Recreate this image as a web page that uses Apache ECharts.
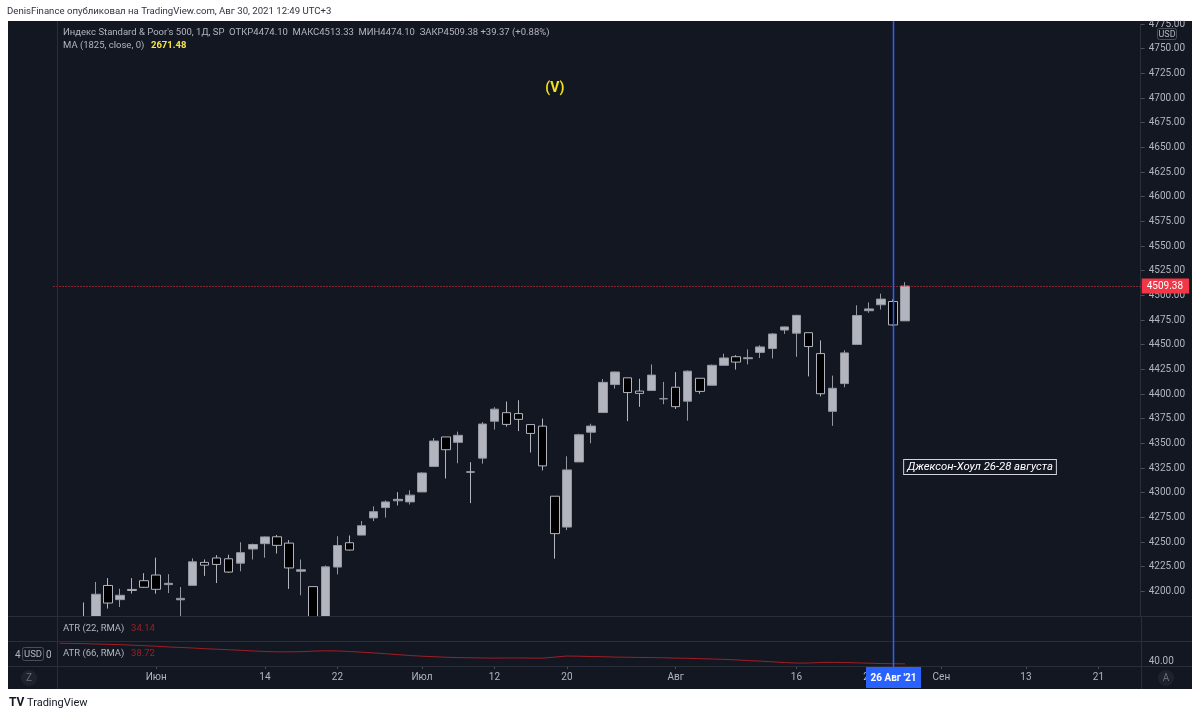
<!DOCTYPE html>
<html><head><meta charset="utf-8">
<script src="https://cdn.jsdelivr.net/npm/echarts@6/dist/echarts.min.js"></script>
<style>html,body{margin:0;padding:0;background:#fff}#c{width:1200px;height:717px}</style>
</head><body><div id="c"></div>
<script>
// ---- data ----
const dates = ['2021-05-19','2021-05-20','2021-05-21','2021-05-24','2021-05-25','2021-05-26','2021-05-27','2021-05-28',
'2021-06-01','2021-06-02','2021-06-03','2021-06-04','2021-06-07','2021-06-08','2021-06-09','2021-06-10','2021-06-11','2021-06-14','2021-06-15','2021-06-16','2021-06-17','2021-06-18','2021-06-21','2021-06-22','2021-06-23','2021-06-24','2021-06-25','2021-06-28','2021-06-29','2021-06-30',
'2021-07-01','2021-07-02','2021-07-06','2021-07-07','2021-07-08','2021-07-09','2021-07-12','2021-07-13','2021-07-14','2021-07-15','2021-07-16','2021-07-19','2021-07-20','2021-07-21','2021-07-22','2021-07-23','2021-07-26','2021-07-27','2021-07-28','2021-07-29','2021-07-30',
'2021-08-02','2021-08-03','2021-08-04','2021-08-05','2021-08-06','2021-08-09','2021-08-10','2021-08-11','2021-08-12','2021-08-13','2021-08-16','2021-08-17','2021-08-18','2021-08-19','2021-08-20','2021-08-23','2021-08-24','2021-08-25','2021-08-26','2021-08-27'];
const futureDates = ['2021-08-30','2021-08-31','2021-09-01','2021-09-02','2021-09-03','2021-09-07','2021-09-08','2021-09-09','2021-09-10','2021-09-13','2021-09-14','2021-09-15','2021-09-16','2021-09-17','2021-09-20','2021-09-21','2021-09-22','2021-09-23','2021-09-24'];
const opens = [4098.45,4121.97,4168.61,4170.16,4205.94,4191.59,4201.94,4210.77,
4216.52,4206.82,4191.43,4206.05,4229.34,4233.81,4232.99,4228.56,4242.90,4248.31,4255.28,4248.87,4220.37,4204.78,4173.40,4224.61,4249.27,4256.97,4274.45,4284.90,4293.21,4290.65,
4300.73,4326.60,4356.46,4351.01,4321.07,4335.00,4372.41,4381.07,4380.11,4369.02,4367.43,4296.40,4265.11,4331.13,4361.27,4381.20,4409.58,4416.38,4402.95,4403.59,4395.12,
4406.86,4392.74,4415.95,4408.86,4429.07,4437.77,4435.79,4442.18,4446.08,4464.84,4461.65,4462.12,4440.94,4382.44,4410.56,4450.29,4484.40,4490.45,4493.75,4474.10];
const highs = [4116.93,4172.80,4188.72,4209.52,4213.42,4202.61,4213.38,4218.36,
4234.12,4217.37,4204.39,4233.45,4232.34,4236.74,4237.09,4249.74,4248.38,4255.59,4257.16,4251.89,4232.29,4204.78,4226.24,4255.84,4256.60,4271.28,4286.12,4292.14,4300.52,4302.43,
4320.66,4355.43,4356.46,4361.88,4330.88,4371.60,4386.68,4392.37,4393.68,4369.02,4375.09,4296.40,4336.84,4359.70,4369.87,4415.18,4422.73,4416.38,4415.47,4429.97,4412.25,
4422.18,4423.79,4416.17,4429.76,4440.82,4439.39,4445.21,4449.44,4461.77,4468.37,4480.26,4462.12,4454.32,4418.61,4444.35,4489.88,4492.81,4501.71,4495.90,4513.33];
const lows = [4061.41,4119.01,4151.72,4170.16,4182.52,4184.11,4197.78,4203.57,
4197.59,4198.27,4167.93,4206.05,4215.66,4208.41,4218.74,4220.34,4232.25,4234.07,4238.35,4202.45,4196.05,4164.40,4173.40,4217.27,4241.43,4256.97,4271.16,4274.67,4287.04,4287.96,
4300.73,4326.60,4314.37,4329.79,4289.37,4329.38,4364.03,4366.92,4362.36,4340.70,4322.53,4233.13,4262.05,4331.13,4350.06,4381.20,4405.45,4372.51,4387.01,4403.59,4389.65,
4384.81,4373.00,4400.23,4408.86,4429.07,4424.74,4430.03,4436.42,4435.96,4460.82,4437.66,4417.83,4397.59,4367.73,4406.80,4450.29,4482.28,4485.66,4468.99,4474.10];
const closes = [4115.68,4159.12,4155.86,4197.05,4188.13,4195.99,4200.88,4204.11,
4202.04,4208.12,4192.85,4229.89,4226.52,4227.26,4219.55,4239.18,4247.44,4255.15,4246.59,4223.70,4221.86,4166.45,4224.79,4246.44,4241.84,4266.49,4280.70,4290.61,4291.80,4297.50,
4319.94,4352.34,4343.54,4358.13,4320.82,4369.55,4384.63,4369.21,4374.30,4360.03,4327.16,4258.49,4323.06,4358.69,4367.48,4411.79,4422.30,4401.46,4400.64,4419.15,4395.26,
4387.16,4423.15,4402.66,4429.10,4436.52,4432.35,4436.75,4447.70,4460.83,4468.00,4479.71,4448.08,4400.27,4405.80,4441.67,4479.53,4486.23,4496.19,4470.00,4509.38];
const atr66 = [50.5,50.4,50.3,50.1,49.9,49.7,49.4,49.1,
48.8,48.4,48.1,47.8,47.4,47.1,46.8,46.5,46.1,45.8,45.6,45.6,45.7,46.0,46.2,46.1,45.8,45.4,45.0,44.5,44.0,43.5,
43.1,42.8,42.5,42.3,42.2,42.1,42.0,42.1,42.1,42.0,42.0,42.6,43.2,43.1,42.9,42.8,42.6,42.5,42.4,42.3,42.2,
42.0,41.9,41.7,41.5,41.3,41.0,40.6,40.3,39.9,39.5,39.2,39.2,39.5,39.6,39.5,39.3,39.1,38.9,38.8,38.72];
const tickDates = ['2021-06-01','2021-06-14','2021-06-22','2021-07-01','2021-07-12','2021-07-20','2021-08-02','2021-08-16','2021-08-24','2021-09-01','2021-09-13','2021-09-21'];
const tickTexts = ['Июн','14','22','Июл','12','20','Авг','16','24','Сен','13','21'];
const lastPrice = 4509.38;
const markDate = '2021-08-26';
const markDateText = "26 Авг '21";
const noteDate = '2021-08-27', notePrice = 4326, noteText = 'Джексон-Хоул 26-28 августа';
const waveDate = '2021-07-19', wavePrice = 4710, waveText = '(V)';

// ---- chart ----
const allDates = dates.concat(futureDates);
const FONT = 'Roboto, "Noto Sans", sans-serif';
const TXT = '#b2b5be', LINE = '#2a2e39', BG = '#131722';
const chart = echarts.init(document.getElementById('c'), null, {renderer: 'canvas'});
const gl = 53.5, gw = 1087.2;
chart.setOption({
  animation: false,
  backgroundColor: '#ffffff',
  textStyle: {fontFamily: FONT},
  grid: [
    {left: gl, width: gw, top: 24, height: 592},
    {left: gl, width: gw, top: 641, height: 25}
  ],
  xAxis: [
    {type: 'category', gridIndex: 0, data: allDates, boundaryGap: true,
     axisLine: {show: false}, axisTick: {show: false}, axisLabel: {show: false}, splitLine: {show: false}},
    {type: 'category', gridIndex: 1, data: allDates, boundaryGap: true,
     axisLine: {show: false},
     axisTick: {show: true, alignWithLabel: true, length: 3, lineStyle: {color: '#4a4e59'},
       interval: (i, v) => tickDates.includes(v)},
     axisLabel: {show: true, color: TXT, fontSize: 10, fontFamily: FONT, margin: 6,
       interval: (i, v) => tickDates.includes(v),
       formatter: v => tickTexts[tickDates.indexOf(v)] || ''},
     splitLine: {show: false}}
  ],
  yAxis: [
    {type: 'value', gridIndex: 0, position: 'right', min: 4175, max: 4775, interval: 25, scale: true,
     axisLine: {show: true, lineStyle: {color: LINE}},
     axisTick: {show: true, length: 4, lineStyle: {color: '#4a4e59'}},
     axisLabel: {color: TXT, fontSize: 10, fontFamily: FONT, margin: 8, showMinLabel: false,
       formatter: v => v.toFixed(2)},
     splitLine: {show: false}},
    {type: 'value', gridIndex: 1, position: 'right', min: 37.5, max: 51.8, interval: 2.5, scale: true,
     axisLine: {show: false}, axisTick: {show: false},
     axisLabel: {color: TXT, fontSize: 10, fontFamily: FONT, margin: 8, showMaxLabel: false,
       formatter: v => (Math.abs(v - 40) < 1e-6 ? '40.00' : '')},
     splitLine: {show: false}}
  ],
  series: [
    {type: 'candlestick', xAxisIndex: 0, yAxisIndex: 0, clip: true, barWidth: 9, z: 2,
     data: dates.map((d, i) => [opens[i], closes[i], lows[i], highs[i]]),
     itemStyle: {color: '#b2b5be', color0: '#000000', borderColor: '#9598a1', borderColor0: '#b2b5be', borderWidth: 1},
     markLine: {symbol: ['none', 'none'], silent: true, animation: false,
       data: [{yAxis: lastPrice}],
       lineStyle: {color: '#f23645', type: [1, 2], width: 1},
       label: {position: 'end', distance: 1, formatter: lastPrice.toFixed(2), color: '#fff',
         backgroundColor: '#f23645', padding: [3, 6, 2, 5], fontSize: 10, fontFamily: FONT}}},
    {type: 'line', xAxisIndex: 1, yAxisIndex: 1, data: atr66, symbol: 'none', clip: true, z: 10,
     lineStyle: {color: '#a11e25', width: 1}}
  ]
});

const p0 = chart.convertToPixel({gridIndex: 0}, [markDate, lastPrice]);
const pn = chart.convertToPixel({gridIndex: 0}, [noteDate, notePrice]);
const pw = chart.convertToPixel({gridIndex: 0}, [waveDate, wavePrice]);
const mx = Math.round(p0[0]) + 0.5;
const F = (s, w) => (w ? w + ' ' : '') + s + 'px ' + FONT;

const g = [
  {type: 'rect', z: -100, silent: true, shape: {x: 8, y: 21, width: 1184, height: 668}, style: {fill: BG}},
  // mask below price pane (lower panes)
  {type: 'rect', z: 5, silent: true, shape: {x: 8, y: 617, width: 1133, height: 49}, style: {fill: BG}},
  {type: 'rect', z: 200, silent: true, shape: {x: 1100, y: 0, width: 100, height: 20.5}, style: {fill: '#fff'}},
  // separators
  {type: 'line', z: 6, shape: {x1: 8, y1: 616.5, x2: 1192, y2: 616.5}, style: {stroke: LINE, lineWidth: 1}},
  {type: 'line', z: 6, shape: {x1: 8, y1: 641.5, x2: 1192, y2: 641.5}, style: {stroke: LINE, lineWidth: 1}},
  {type: 'line', z: 6, shape: {x1: 8, y1: 666.5, x2: 1192, y2: 666.5}, style: {stroke: LINE, lineWidth: 1}},
  {type: 'line', z: 6, shape: {x1: 57.5, y1: 21, x2: 57.5, y2: 689}, style: {stroke: LINE, lineWidth: 1}},
  {type: 'line', z: 6, shape: {x1: 1141.5, y1: 616, x2: 1141.5, y2: 689}, style: {stroke: LINE, lineWidth: 1}},
  // header
  {type: 'text', z: 210, style: {x: 7, y: 12, text: 'DenisFinance опубликовал на TradingView.com, Авг 30, 2021 12:49 UTC+3',
    fill: '#2f3241', font: F(9.6), verticalAlign: 'middle'}},
  {type: 'text', z: 50, style: {x: 63, y: 33, text: "Индекс Standard & Poor's 500, 1Д, SP  ОТКР4474.10  МАКС4513.33  МИН4474.10  ЗАКР4509.38 +39.37 (+0.88%)",
    fill: TXT, font: F(9.5), verticalAlign: 'middle'}},
  {type: 'text', z: 50, style: {x: 63, y: 46, text: '{a|MA (1825, close, 0)}  {b|2671.48}', verticalAlign: 'middle',
    rich: {a: {fill: TXT, font: F(9.5)}, b: {fill: '#f5e44a', font: F(9.5, 'bold')}}}},
  // ATR labels
  {type: 'text', z: 50, style: {x: 63, y: 629, text: '{a|ATR (22, RMA)}  {b|34.14}', verticalAlign: 'middle',
    rich: {a: {fill: TXT, font: F(9.5)}, b: {fill: '#9c1f24', font: F(9.5)}}}},
  {type: 'text', z: 50, style: {x: 63, y: 654, text: '{a|ATR (66, RMA)}  {b|38.72}', verticalAlign: 'middle',
    rich: {a: {fill: TXT, font: F(9.5)}, b: {fill: '#9c1f24', font: F(9.5)}}}},
  // left USD stub
  {type: 'text', z: 50, style: {x: 15, y: 655, text: '4', fill: TXT, font: F(10), verticalAlign: 'middle'}},
  {type: 'text', z: 50, style: {x: 46, y: 655, text: '0', fill: TXT, font: F(10), verticalAlign: 'middle'}},
  {type: 'rect', z: 51, shape: {x: 22.5, y: 647.5, width: 21, height: 13, r: 2}, style: {fill: BG, stroke: '#4a4e59', lineWidth: 1}},
  {type: 'text', z: 52, style: {x: 33, y: 654.5, text: 'USD', fill: TXT, font: F(9.5), align: 'center', verticalAlign: 'middle'}},
  // top-right USD
  {type: 'rect', z: 201, shape: {x: 1157.5, y: 28.5, width: 19, height: 11, r: 2}, style: {fill: BG, stroke: '#4a4e59', lineWidth: 1}},
  {type: 'text', z: 202, style: {x: 1167, y: 34.5, text: 'USD', fill: TXT, font: F(9), align: 'center', verticalAlign: 'middle'}},
  // corner buttons
  {type: 'circle', z: 50, shape: {cx: 29, cy: 678, r: 8}, style: {fill: '#1e222d'}},
  {type: 'text', z: 51, style: {x: 29, y: 678, text: 'Z', fill: '#6a6d78', font: F(10), align: 'center', verticalAlign: 'middle'}},
  {type: 'circle', z: 50, shape: {cx: 1166, cy: 678, r: 8}, style: {fill: '#1e222d'}},
  {type: 'text', z: 51, style: {x: 1166, y: 678, text: 'A', fill: '#6a6d78', font: F(10), align: 'center', verticalAlign: 'middle'}},
  // footer
  {type: 'text', z: 50, style: {x: 9, y: 703, text: 'TV', fill: '#131722', font: F(12, 'bold'), verticalAlign: 'middle'}},
  {type: 'text', z: 50, style: {x: 27, y: 703, text: 'TradingView', fill: '#131722', font: F(11), verticalAlign: 'middle'}},
  // blue cursor line & date box
  {type: 'line', z: 100, shape: {x1: mx, y1: 21, x2: mx, y2: 668}, style: {stroke: '#2962ff', lineWidth: 1.5}},
  {type: 'rect', z: 101, shape: {x: mx - 27.5, y: 667, width: 55, height: 21}, style: {fill: '#2962ff'}},
  {type: 'text', z: 102, style: {x: mx, y: 678, text: markDateText, fill: '#fff', font: F(10, 'bold'), align: 'center', verticalAlign: 'middle'}},
  // annotations
  {type: 'text', z: 60, style: {x: pn[0] - 1, y: pn[1], text: noteText, fill: '#ffffff', font: F(11.3, 'italic'),
    verticalAlign: 'middle', backgroundColor: BG, borderColor: '#d1d4dc', borderWidth: 1, padding: [2, 3, 1, 3]}},
  {type: 'text', z: 60, style: {x: pw[0], y: pw[1], text: waveText, fill: '#f2e21b', font: F(14, 'bold'),
    align: 'center', verticalAlign: 'middle'}}
];
chart.setOption({graphic: g});
</script></body></html>
